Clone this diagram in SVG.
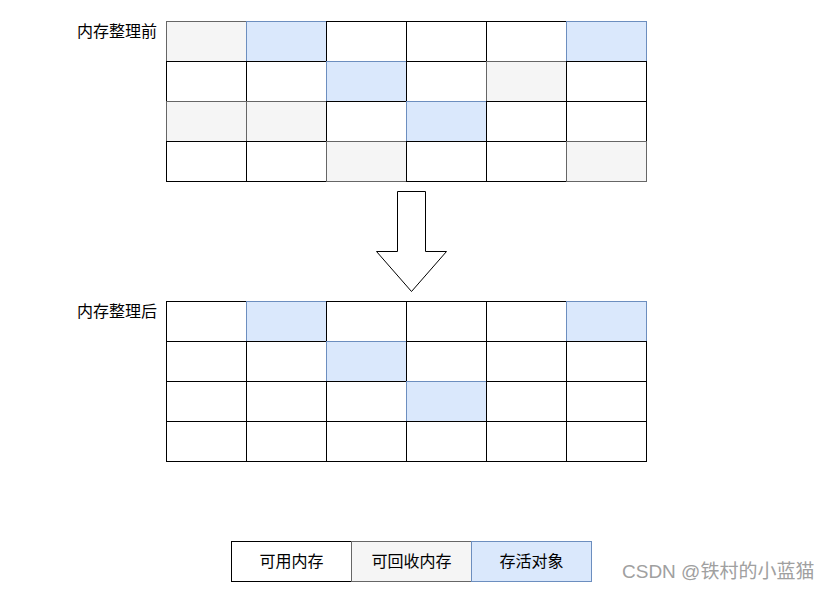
<svg xmlns="http://www.w3.org/2000/svg" width="829" height="590" viewBox="0 0 829 590">
<style>
.w{fill:#ffffff;stroke:#000000;stroke-width:1}
.g{fill:#f5f5f5;stroke:#666666;stroke-width:1}
.b{fill:#dae8fc;stroke:#6c8ebf;stroke-width:1}
.t{font-family:"Noto Sans CJK SC","Liberation Sans",sans-serif;font-size:16px;fill:#000}
.wm{font-family:"Liberation Sans","Noto Sans CJK SC",sans-serif;font-size:19px;fill:#a0a0a0}
</style>
<rect width="829" height="590" fill="#ffffff"/>
<g id="label-before"><text class="t" x="77" y="37">内存整理前</text></g>
<g id="grid-before">
<rect class="g" x="166.5" y="21.5" width="80" height="40"/>
<rect class="b" x="246.5" y="21.5" width="80" height="40"/>
<rect class="w" x="326.5" y="21.5" width="80" height="40"/>
<rect class="w" x="406.5" y="21.5" width="80" height="40"/>
<rect class="w" x="486.5" y="21.5" width="80" height="40"/>
<rect class="b" x="566.5" y="21.5" width="80" height="40"/>
<rect class="w" x="166.5" y="61.5" width="80" height="40"/>
<rect class="w" x="246.5" y="61.5" width="80" height="40"/>
<rect class="b" x="326.5" y="61.5" width="80" height="40"/>
<rect class="w" x="406.5" y="61.5" width="80" height="40"/>
<rect class="g" x="486.5" y="61.5" width="80" height="40"/>
<rect class="w" x="566.5" y="61.5" width="80" height="40"/>
<rect class="g" x="166.5" y="101.5" width="80" height="40"/>
<rect class="g" x="246.5" y="101.5" width="80" height="40"/>
<rect class="w" x="326.5" y="101.5" width="80" height="40"/>
<rect class="b" x="406.5" y="101.5" width="80" height="40"/>
<rect class="w" x="486.5" y="101.5" width="80" height="40"/>
<rect class="w" x="566.5" y="101.5" width="80" height="40"/>
<rect class="w" x="166.5" y="141.5" width="80" height="40"/>
<rect class="w" x="246.5" y="141.5" width="80" height="40"/>
<rect class="g" x="326.5" y="141.5" width="80" height="40"/>
<rect class="w" x="406.5" y="141.5" width="80" height="40"/>
<rect class="w" x="486.5" y="141.5" width="80" height="40"/>
<rect class="g" x="566.5" y="141.5" width="80" height="40"/>
</g>
<g id="arrow">
<polygon points="397.5,191.5 425.5,191.5 425.5,251.5 446.5,251.5 411.5,291.5 376.5,251.5 397.5,251.5" fill="#ffffff" stroke="#000000" stroke-width="1"/>
</g>
<g id="label-after"><text class="t" x="77" y="317">内存整理后</text></g>
<g id="grid-after">
<rect class="w" x="166.5" y="301.5" width="80" height="40"/>
<rect class="b" x="246.5" y="301.5" width="80" height="40"/>
<rect class="w" x="326.5" y="301.5" width="80" height="40"/>
<rect class="w" x="406.5" y="301.5" width="80" height="40"/>
<rect class="w" x="486.5" y="301.5" width="80" height="40"/>
<rect class="b" x="566.5" y="301.5" width="80" height="40"/>
<rect class="w" x="166.5" y="341.5" width="80" height="40"/>
<rect class="w" x="246.5" y="341.5" width="80" height="40"/>
<rect class="b" x="326.5" y="341.5" width="80" height="40"/>
<rect class="w" x="406.5" y="341.5" width="80" height="40"/>
<rect class="w" x="486.5" y="341.5" width="80" height="40"/>
<rect class="w" x="566.5" y="341.5" width="80" height="40"/>
<rect class="w" x="166.5" y="381.5" width="80" height="40"/>
<rect class="w" x="246.5" y="381.5" width="80" height="40"/>
<rect class="w" x="326.5" y="381.5" width="80" height="40"/>
<rect class="b" x="406.5" y="381.5" width="80" height="40"/>
<rect class="w" x="486.5" y="381.5" width="80" height="40"/>
<rect class="w" x="566.5" y="381.5" width="80" height="40"/>
<rect class="w" x="166.5" y="421.5" width="80" height="40"/>
<rect class="w" x="246.5" y="421.5" width="80" height="40"/>
<rect class="w" x="326.5" y="421.5" width="80" height="40"/>
<rect class="w" x="406.5" y="421.5" width="80" height="40"/>
<rect class="w" x="486.5" y="421.5" width="80" height="40"/>
<rect class="w" x="566.5" y="421.5" width="80" height="40"/>
</g>
<g id="legend-free">
<rect class="w" x="231.5" y="541.5" width="120" height="40"/>
<text class="t" x="291.5" y="567" text-anchor="middle">可用内存</text>
</g>
<g id="legend-recyclable">
<rect class="g" x="351.5" y="541.5" width="120" height="40"/>
<text class="t" x="411.5" y="567" text-anchor="middle" fill="#333">可回收内存</text>
</g>
<g id="legend-alive">
<rect class="b" x="471.5" y="541.5" width="120" height="40"/>
<text class="t" x="531.5" y="567" text-anchor="middle">存活对象</text>
</g>
<text class="wm" x="622" y="578">CSDN @铁村的小蓝猫</text>
</svg>
